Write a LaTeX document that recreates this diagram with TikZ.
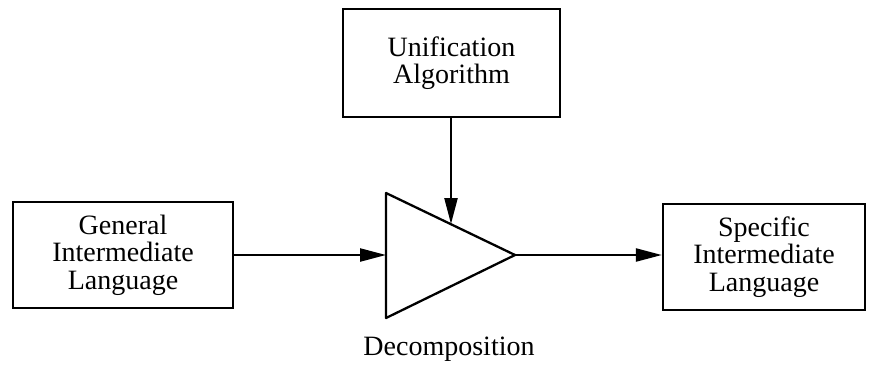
\documentclass[tikz,border=0pt]{standalone}
\usepackage{fontspec}
\setmainfont{Liberation Serif}
\usetikzlibrary{arrows.meta,positioning}
\tikzset{
  blockbox/.style={draw, line width=2.3pt, align=center, inner sep=0pt,
    font=\fontsize{28}{27.5}\selectfont},
  flowln/.style={-{Triangle[length=26pt,width=13pt]}, line width=2.3pt},
  triln/.style={line width=2.3pt, line join=round},
}

\begin{document}
\begin{tikzpicture}[x=1pt, y=-1pt]
    \useasboundingbox (0,0) rectangle (869,365);
    % blocks
    \node[blockbox, minimum width=220pt, minimum height=106pt] (gen) at (123,255)
      {General\\Intermediate\\Language};
    \node[blockbox, minimum width=217pt, minimum height=108pt] (unif) at (451.5,63)
      {Unification\\Algorithm};
    \node[blockbox, minimum width=202pt, minimum height=106pt] (spec) at (764,257)
      {Specific\\Intermediate\\Language};
    % decomposition triangle
    \coordinate (tritop) at (386,193);
    \coordinate (tribot) at (386,318);
    \coordinate (triapex) at (515,255);
    \coordinate (trihit) at (451,224);
    \draw[triln] (tritop) -- (triapex) -- (tribot) -- cycle;
    \node[font=\fontsize{28}{27.5}\selectfont, anchor=base] (decomp) at (449,355) {Decomposition};
    % arrows
    \draw[flowln] (gen.east) -- (gen.east -| tritop);
    \draw[flowln] (unif.south -| trihit) -- (trihit);
    \draw[flowln] (triapex) -- (triapex -| spec.west);
  \end{tikzpicture}
\end{document}
